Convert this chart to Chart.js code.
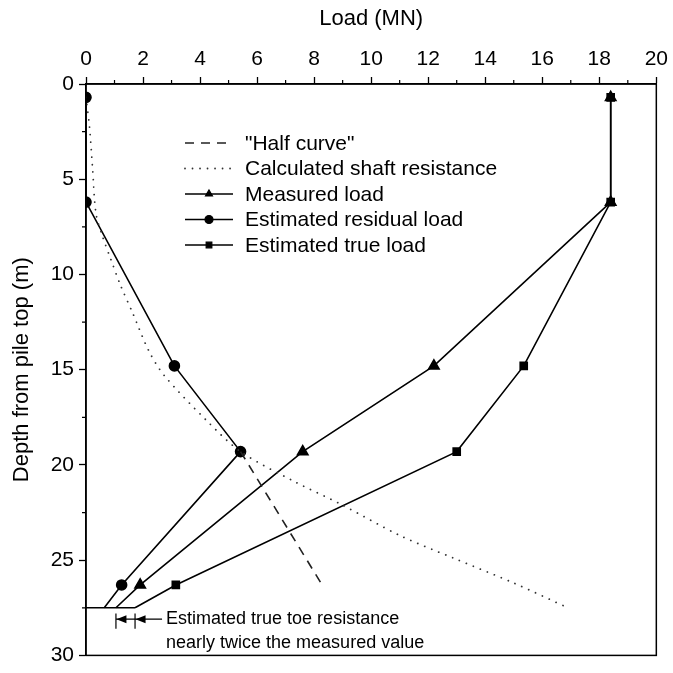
<!DOCTYPE html>
<html>
<head>
<meta charset="utf-8">
<script src="https://cdn.jsdelivr.net/npm/chart.js@4/dist/chart.umd.min.js"></script>
<style>
html, body { margin: 0; padding: 0; background: #fff; }
</style>
</head>
<body>
<canvas id="chart" width="673" height="673"></canvas>
<script>
// depths (m) of the gauge levels, last one is the pile toe
const depths = [0.7, 6.2, 14.8, 19.3, 26.3, 27.5];
const measuredLoad = [18.4, 18.4, 12.2, 7.6, 1.9, 1.05];
const residualLoad = [0, 0, 3.1, 5.42, 1.25, 0.64];
const trueLoad = [18.4, 18.4, 15.35, 13.0, 3.15, 1.72];

const halfDepth = [19.3, 26.3];
const halfLoad = [5.42, 8.28];

const shaftDepth = [0.7, 2.2, 4.4, 6.8, 8.0, 9.2, 10.6, 12.0, 14.0, 15.3, 17.7, 19.3, 20.85, 22.05, 23.7, 24.9, 26.2, 27.5];
const shaftLoad = [0, 0.12, 0.23, 0.35, 0.58, 0.87, 1.22, 1.63, 2.2, 2.74, 4.25, 5.42, 7.28, 8.92, 11.0, 12.9, 15.0, 16.9];

const toeDepth = 27.5;
const toeLoad = [0, 1.72];

const xTicks = [0, 2, 4, 6, 8, 10, 12, 14, 16, 18, 20];
const yTicks = [0, 5, 10, 15, 20, 25, 30];

const legendLabels = ['"Half curve"', 'Calculated shaft resistance', 'Measured load', 'Estimated residual load', 'Estimated true load'];
const noteLines = ['Estimated true toe resistance', 'nearly twice the measured value'];

const FONT = '"Liberation Sans", Arial, sans-serif';

function pts(xs, ys) {
    return xs.map((x, i) => ({ x: x, y: ys[i] }));
}
function markerRadius(r) {
    return ctx => (ctx.dataIndex === depths.length - 1 ? 0 : r);
}

const lineBase = { showLine: true, borderColor: '#000', backgroundColor: '#000', borderWidth: 1.6, fill: false };

const datasets = [
    Object.assign({}, lineBase, { label: legendLabels[0], data: pts(halfLoad, halfDepth), borderColor: '#222', borderDash: [9, 7], pointRadius: 0 }),
    Object.assign({}, lineBase, { label: legendLabels[1], data: pts(shaftLoad, shaftDepth), borderColor: '#333', borderWidth: 1.8, borderDash: [0.01, 7.5], borderCapStyle: 'round', tension: 0.3, pointRadius: 0 }),
    Object.assign({}, lineBase, { label: legendLabels[2], data: pts(measuredLoad, depths), pointStyle: 'triangle', pointRadius: markerRadius(6) }),
    Object.assign({}, lineBase, { label: legendLabels[3], data: pts(residualLoad, depths), pointStyle: 'circle', pointRadius: markerRadius(5) }),
    Object.assign({}, lineBase, { label: legendLabels[4], data: pts(trueLoad, depths), pointStyle: 'rect', pointRadius: markerRadius(5) }),
    Object.assign({}, lineBase, { label: 'toe', data: pts(toeLoad, [toeDepth, toeDepth]), pointRadius: 0 })
];

const extras = {
    id: 'extras',
    afterDraw(chart) {
        const ctx = chart.ctx;
        const a = chart.chartArea;
        const xs = chart.scales.x, ys = chart.scales.y;
        ctx.save();
        ctx.strokeStyle = '#000';
        ctx.fillStyle = '#000';
        ctx.lineWidth = 1.5;
        ctx.setLineDash([]);
        ctx.strokeRect(a.left, a.top, a.right - a.left, a.bottom - a.top);

        // minor ticks
        ctx.lineWidth = 1.2;
        ctx.beginPath();
        for (let v = 1; v < 20; v += 2) {
            const px = xs.getPixelForValue(v);
            ctx.moveTo(px, a.top); ctx.lineTo(px, a.top - 4);
        }
        for (let v = 2.5; v < 30; v += 5) {
            const py = ys.getPixelForValue(v);
            ctx.moveTo(a.left, py); ctx.lineTo(a.left - 4, py);
        }
        ctx.stroke();

        // legend
        const lx0 = a.left + 99, lx1 = a.left + 147, ltx = a.left + 159;
        const ly0 = a.top + 59, lstep = 25.5;
        ctx.font = '21px ' + FONT;
        ctx.textBaseline = 'middle';
        ctx.textAlign = 'left';
        for (let i = 0; i < 5; i++) {
            const ds = chart.data.datasets[i];
            const y = ly0 + i * lstep;
            ctx.save();
            ctx.strokeStyle = ds.borderColor;
            ctx.lineWidth = ds.borderWidth;
            ctx.lineCap = ds.borderCapStyle || 'butt';
            ctx.setLineDash(ds.borderDash || []);
            ctx.beginPath();
            ctx.moveTo(lx0, y); ctx.lineTo(lx1, y);
            ctx.stroke();
            ctx.restore();
            if (ds.pointStyle) {
                Chart.helpers.drawPoint(ctx, { pointStyle: ds.pointStyle, radius: 4, rotation: 0, borderWidth: 1 }, (lx0 + lx1) / 2, y);
            }
            ctx.fillStyle = '#000';
            ctx.fillText(ds.label, ltx, y + 1);
        }

        // toe annotation
        const xm = xs.getPixelForValue(measuredLoad[measuredLoad.length - 1]);
        const xt = xs.getPixelForValue(trueLoad[trueLoad.length - 1]);
        const yTop = ys.getPixelForValue(27.8), yBot = ys.getPixelForValue(28.6);
        const yArr = ys.getPixelForValue(28.1);
        ctx.strokeStyle = '#000';
        ctx.lineWidth = 1.2;
        ctx.beginPath();
        ctx.moveTo(xm, yTop); ctx.lineTo(xm, yBot);
        ctx.moveTo(xt, yTop); ctx.lineTo(xt, yBot);
        ctx.moveTo(xm, yArr); ctx.lineTo(xt, yArr);
        ctx.moveTo(xt, yArr); ctx.lineTo(xt + 27, yArr);
        ctx.stroke();
        [xm, xt].forEach(tip => {
            ctx.beginPath();
            ctx.moveTo(tip + 0.5, yArr);
            ctx.lineTo(tip + 10.5, yArr - 4);
            ctx.lineTo(tip + 10.5, yArr + 4);
            ctx.closePath();
            ctx.fill();
        });
        ctx.font = '18px ' + FONT;
        ctx.fillText(noteLines[0], xt + 31, yArr);
        ctx.fillText(noteLines[1], xt + 31, yArr + 24);
        ctx.restore();
    }
};

new Chart(document.getElementById('chart'), {
    type: 'scatter',
    data: { datasets: datasets },
    options: {
        responsive: false,
        devicePixelRatio: 1,
        animation: false,
        layout: { padding: { left: 0, top: 0, right: 15, bottom: 8 } },
        plugins: { legend: { display: false }, tooltip: { enabled: false } },
        scales: {
            x: {
                type: 'linear', position: 'top', min: 0, max: 20,
                afterBuildTicks: s => { s.ticks = xTicks.map(v => ({ value: v })); },
                afterFit: s => { s.height = 84; },
                ticks: { color: '#000', font: { family: FONT, size: 21 }, padding: 5 },
                grid: { drawOnChartArea: false, tickLength: 7, tickColor: '#000', tickWidth: 1.3 },
                border: { color: '#000', width: 1.5 },
                title: { display: true, text: 'Load (MN)', color: '#000', font: { family: FONT, size: 22 }, padding: { top: 6, bottom: 0 } }
            },
            y: {
                type: 'linear', reverse: true, min: 0, max: 30,
                afterBuildTicks: s => { s.ticks = yTicks.map(v => ({ value: v })); },
                afterFit: s => { s.width = 86; },
                ticks: { color: '#000', font: { family: FONT, size: 21 }, padding: 5 },
                grid: { drawOnChartArea: false, tickLength: 7, tickColor: '#000', tickWidth: 1.3 },
                border: { color: '#000', width: 1.5 },
                title: { display: true, text: 'Depth from pile top (m)', color: '#000', font: { family: FONT, size: 22 }, padding: { top: 9, bottom: 0 } }
            }
        }
    },
    plugins: [extras]
});
</script>
</body>
</html>
